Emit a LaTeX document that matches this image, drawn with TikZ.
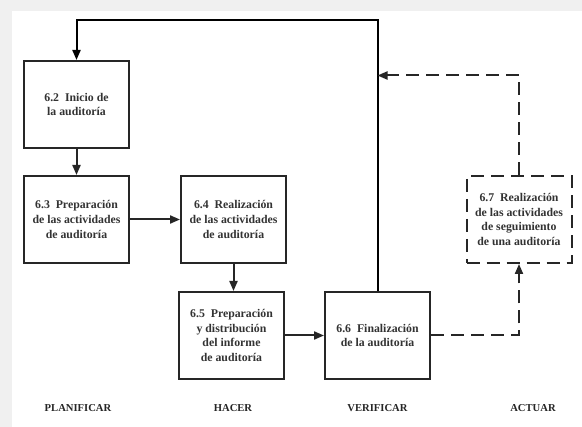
\documentclass[tikz,border=0pt]{standalone}
\usepackage{fontspec}
\setmainfont{Liberation Serif}
\usepackage{tikz}
\usetikzlibrary{arrows.meta,positioning}

\tikzset{
  etapa/.style={draw=black!85,line width=2pt,minimum width=105pt,minimum height=87pt,
    inner sep=0pt,align=center,text=black!80,font=\fontsize{11.8}{14.6}\selectfont\bfseries},
  etapadash/.style={etapa,dash pattern=on 13pt off 7pt},
  flecha/.style={line width=2pt,black!85,->},
  flechadash/.style={flecha,dash pattern=on 13pt off 7pt},
  ciclo/.style={font=\fontsize{10.6}{12}\selectfont\bfseries,text=black!85}
}

\begin{document}
\begin{tikzpicture}[x=1pt,y=-1pt,>={Triangle[length=10pt,width=8pt]}]
  \useasboundingbox (0,0) rectangle (582,427);
  \fill[black!6] (0,0) rectangle (582,427);
  \fill[white] (12,11) rectangle (582,427);
  % etapas
  \node[etapa] (inicio) at (76.5,104.5) {6.2\ \ Inicio de\\la auditoría};
  \node[etapa] (prepara) at (76.5,219.5) {6.3\ \ Preparación\\de las actividades\\de auditoría};
  \node[etapa] (realiza) at (233.5,219.5) {6.4\ \ Realización\\de las actividades\\de auditoría};
  \node[etapa] (informe) at (231.5,335.5) {6.5\ \ Preparación\\y distribución\\del informe\\de auditoría};
  \node[etapa] (finaliza) at (377.5,335.5) {6.6\ \ Finalización\\de la auditoría};
  \node[etapadash] (seguim) at (519,219.5) {6.7\ \ Realización\\de las actividades\\de seguimiento\\de una auditoría};
  % ciclo PHVA
  \node[ciclo] (planificar) at (78,408) {PLANIFICAR};
  \node[ciclo] (hacer) at (233,408) {HACER};
  \node[ciclo] (verificar) at (377.5,408) {VERIFICAR};
  \node[ciclo] (actuar) at (533,408) {ACTUAR};
  % conectores
  \coordinate (arriba) at (0,20);
  \coordinate (vuelta) at (0,75.5);
  \draw[flecha] (inicio) -- (prepara);
  \draw[flecha] (prepara) -- (realiza);
  \draw[flecha] (realiza.south) -- (realiza.south |- informe.north);
  \draw[flecha] (informe) -- (finaliza);
  \draw[flecha,black] (finaliza.north) -- (finaliza.north |- arriba) -| (inicio.north);
  \draw[flechadash] (finaliza.east) -| (seguim.south);
  \draw[flechadash] (seguim.north) -- (seguim.north |- vuelta) -- (finaliza.north |- vuelta);
\end{tikzpicture}
\end{document}
